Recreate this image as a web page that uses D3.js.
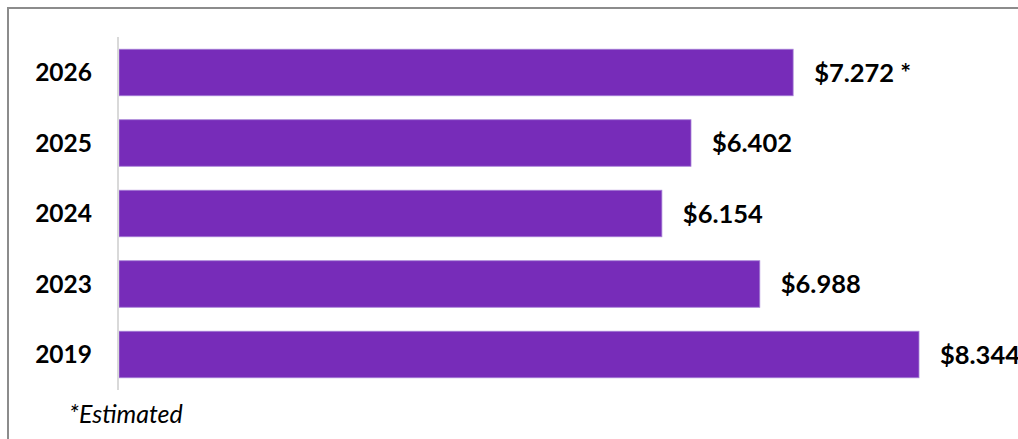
<!DOCTYPE html>
<html>
<head>
<meta charset="utf-8">
<script src="https://cdn.jsdelivr.net/npm/d3@7"></script>
<style>
  body { margin: 0; background: #fff; }
  svg { display: block; }
  .year { font-family: Lato, "Open Sans", sans-serif; font-weight: bold; font-size: 24.5px; fill: #000; }
  .val { font-family: Lato, "Open Sans", sans-serif; font-weight: bold; font-size: 25.5px; fill: #000; }
  .note { font-family: Lato, "Open Sans", sans-serif; font-style: italic; font-size: 25px; fill: #000; }
</style>
</head>
<body>
<svg id="chart"></svg>
<script>
// values, top to bottom
var years = ["2026", "2025", "2024", "2023", "2019"];
var values = [7.272, 6.402, 6.154, 6.988, 8.344];
var valueLabels = ["$7.272 *", "$6.402", "$6.154", "$6.988", "$8.344"];
var footnote = "*Estimated";

var width = 1018, height = 439;

var svg = d3.select("#chart")
  .attr("width", width)
  .attr("height", height);

// frame (only top and left edges show in the picture)
svg.append("path")
  .attr("d", "M8,439 V8 H1018")
  .attr("fill", "none")
  .attr("stroke", "#8c8c8c")
  .attr("stroke-width", 2);

var x = d3.scaleLinear()
  .domain([1.53, 9])
  .range([119, 996]);

var y = d3.scaleBand()
  .domain(years)
  .range([37, 390])
  .paddingInner(0.34)
  .paddingOuter(0.1735);

var data = years.map(function(d, i) {
  return {year: d, value: values[i], label: valueLabels[i]};
});

svg.selectAll(".bar")
  .data(data)
  .enter().append("rect")
  .attr("class", "bar")
  .attr("x", x(x.domain()[0]))
  .attr("y", function(d) { return y(d.year); })
  .attr("width", function(d) { return x(d.value) - x(x.domain()[0]); })
  .attr("height", y.bandwidth())
  .attr("fill", "#772cb9")
  .attr("stroke", "#a57fd6")
  .attr("stroke-width", 0.8);

// category axis line
svg.append("line")
  .attr("x1", 118).attr("x2", 118)
  .attr("y1", y.range()[0]).attr("y2", y.range()[1])
  .attr("stroke", "#d9d9d9")
  .attr("stroke-width", 2);

svg.selectAll(".year")
  .data(data)
  .enter().append("text")
  .attr("class", "year")
  .attr("x", 92)
  .attr("y", function(d) { return y(d.year) + y.bandwidth() / 2; })
  .attr("dy", "0.36em")
  .attr("text-anchor", "end")
  .text(function(d) { return d.year; });

svg.selectAll(".val")
  .data(data)
  .enter().append("text")
  .attr("class", "val")
  .attr("x", function(d) { return x(d.value) + 21; })
  .attr("y", function(d) { return y(d.year) + y.bandwidth() / 2; })
  .attr("dy", "0.36em")
  .text(function(d) { return d.label; });

svg.append("text")
  .attr("class", "note")
  .attr("x", 69)
  .attr("y", 423)
  .text(footnote);
</script>
</body>
</html>
